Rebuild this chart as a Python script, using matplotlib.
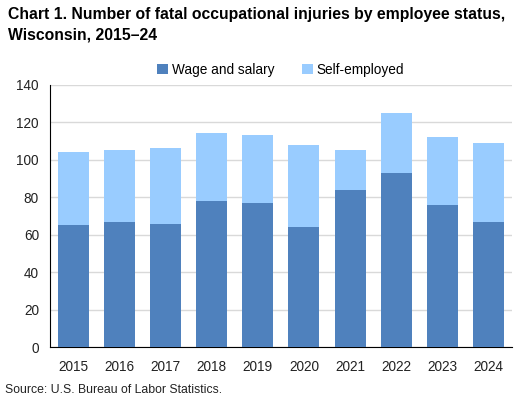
import numpy as np
import matplotlib
matplotlib.use('Agg')
import matplotlib.pyplot as plt

years = ['2015', '2016', '2017', '2018', '2019', '2020', '2021', '2022', '2023', '2024']
wage_salary = [65, 67, 66, 78, 77, 64, 84, 93, 76, 67]
self_employed = [39, 38, 40, 36, 36, 44, 21, 32, 36, 42]

plt.rcParams['font.family'] = ['Liberation Sans', 'DejaVu Sans']

fig = plt.figure(figsize=(5.28, 4.07), dpi=100)
ax = fig.add_axes([50 / 528, 1 - 347.3 / 407, 461.7 / 528, 262.6 / 407])

x = np.arange(len(years))
ax.bar(x, wage_salary, 0.67, color='#4F81BD', label='Wage and salary', zorder=3)
ax.bar(x, self_employed, 0.67, bottom=wage_salary, color='#99CCFF', label='Self-employed', zorder=3)

ax.set_xlim(-0.5, len(years) - 0.5)
ax.set_ylim(0, 140)
ax.set_yticks(range(0, 141, 20))
ax.set_xticks(x)
ax.set_xticklabels(years)
ax.tick_params(length=0, labelsize=9.8, colors='#222222')
ax.tick_params(axis='x', pad=9)
ax.tick_params(axis='y', pad=8)
ax.grid(axis='y', color='#D9D9D9', linewidth=1, zorder=0)
for s in ['top', 'right']:
    ax.spines[s].set_visible(False)
ax.spines['left'].set_color('black')
ax.spines['bottom'].set_color('black')

ax.legend(loc='lower center', bbox_to_anchor=(0.5, 1.0), ncol=2, frameon=False,
          fontsize=9.8, handlelength=0.8, handleheight=0.8, handletextpad=0.3,
          columnspacing=2.0, borderaxespad=0.2)

fig.text(8 / 528, 1 - 7 / 407, 'Chart 1. Number of fatal occupational injuries by employee status,\nWisconsin, 2015\u201324',
         fontsize=11.3, fontweight='bold', va='top', ha='left', linespacing=1.5)
fig.text(5 / 528, 1 - 390 / 407, 'Source: U.S. Bureau of Labor Statistics.', fontsize=8.8,
         va='center', ha='left', color='#222222')

fig.savefig('out.png', dpi=100)
